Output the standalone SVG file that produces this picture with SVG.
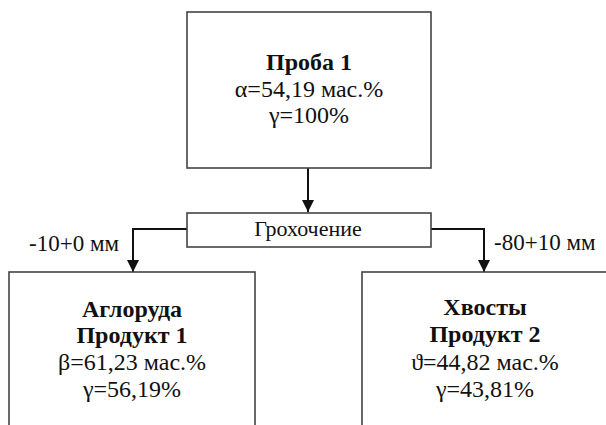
<svg xmlns="http://www.w3.org/2000/svg" width="606" height="425" viewBox="0 0 606 425">
<style>
.box{fill:#fff;stroke:#444;stroke-width:1.6}
.t{font-family:'Liberation Serif','Times New Roman',serif;font-size:24px;fill:#111;text-anchor:middle}
.b{font-weight:bold}
.lbl{font-family:'Liberation Serif','Times New Roman',serif;font-size:23px;fill:#111}
.c{fill:none;stroke:#111;stroke-width:2}
</style>
<defs>
<marker id="ah" viewBox="0 0 12 12" refX="12" refY="6" markerWidth="12" markerHeight="12" markerUnits="userSpaceOnUse" orient="auto">
<path d="M0,0 L12,6 L0,12 Z" fill="#111"/>
</marker>
</defs>
<rect width="606" height="425" fill="#fff"/>
<g id="connectors">
<path class="c" d="M308,168 V212" marker-end="url(#ah)"/>
<path class="c" d="M187,229 H133 V272" marker-end="url(#ah)"/>
<path class="c" d="M431,229 H484 V272" marker-end="url(#ah)"/>
<text class="lbl" x="29" y="251">-10+0 мм</text>
<text class="lbl" x="494" y="250">-80+10 мм</text>
</g>
<g id="probe">
<rect class="box" x="187" y="12" width="244" height="156"/>
<text class="t b" x="309" y="70">Проба 1</text>
<text class="t" x="309" y="97">α=54,19 мас.%</text>
<text class="t" x="309" y="123">γ=100%</text>
</g>
<g id="screening">
<rect class="box" x="187" y="213" width="244" height="34"/>
<text class="t" x="308" y="236" style="font-size:22px">Грохочение</text>
</g>
<g id="product1">
<rect class="box" x="9" y="272" width="246" height="160"/>
<text class="t b" x="132" y="317">Аглоруда</text>
<text class="t b" x="132" y="343">Продукт 1</text>
<text class="t" x="132" y="370">β=61,23 мас.%</text>
<text class="t" x="132" y="397">γ=56,19%</text>
</g>
<g id="product2">
<rect class="box" x="362" y="272" width="250" height="160"/>
<text class="t b" x="485" y="315">Хвосты</text>
<text class="t b" x="485" y="342">Продукт 2</text>
<text class="t" x="485" y="370">ϑ=44,82 мас.%</text>
<text class="t" x="485" y="397">γ=43,81%</text>
</g>
</svg>
